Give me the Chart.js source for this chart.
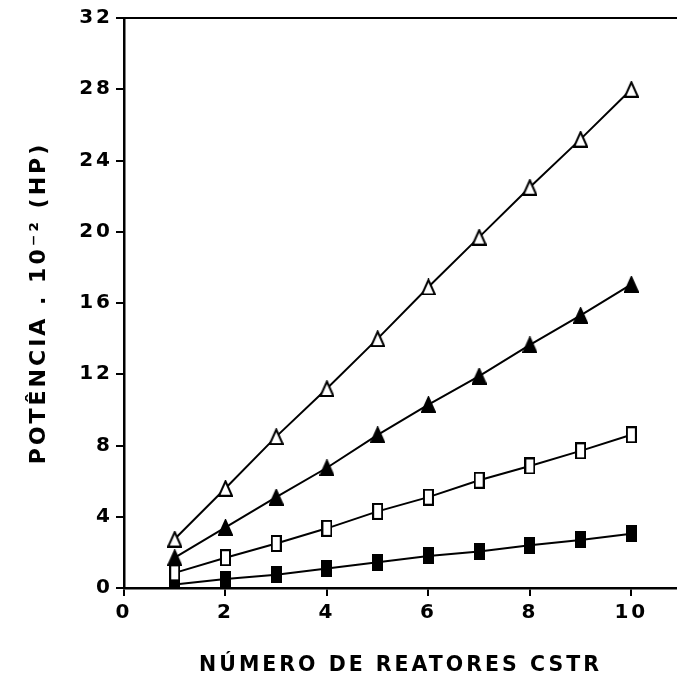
<!DOCTYPE html>
<html>
<head>
<meta charset="utf-8">
<script src="https://cdn.jsdelivr.net/npm/chart.js@4"></script>
<style>
  html, body { margin: 0; padding: 0; background: #fff; overflow: hidden; }
  #wrap { width: 677px; height: 682px; position: relative; }
  canvas { display: block; }
</style>
</head>
<body>
<div id="wrap"><canvas id="chart"></canvas></div>
<script>
// numero de reatores
var reatores = [1, 2, 3, 4, 5, 6, 7, 8, 9, 10];
// potencia . 10^-2 (HP), uma serie por simbolo
var trianguloAberto = [2.75, 5.6, 8.5, 11.2, 14.0, 16.9, 19.7, 22.5, 25.2, 28.0];
var trianguloCheio = [1.7, 3.4, 5.1, 6.75, 8.6, 10.3, 11.9, 13.65, 15.3, 17.05];
var quadradoAberto = [0.85, 1.7, 2.5, 3.35, 4.3, 5.1, 6.05, 6.85, 7.7, 8.6];
var quadradoCheio = [0.2, 0.5, 0.75, 1.1, 1.45, 1.8, 2.05, 2.4, 2.7, 3.05];
var yTicks = [0, 4, 8, 12, 16, 20, 24, 28, 32];
var xTicks = [0, 2, 4, 6, 8, 10];

// marcadores desenhados a mao
function marcador(tipo, cheio) {
    var c = document.createElement('canvas');
    var w = tipo === 'tri' ? 15 : 11;
    var h = 17;
    c.width = w; c.height = h;
    var g = c.getContext('2d');
    g.lineWidth = 2;
    g.strokeStyle = '#000';
    g.fillStyle = cheio ? '#000' : '#fff';
    g.beginPath();
    if (tipo === 'tri') {
        g.moveTo(w / 2, 1.5);
        g.lineTo(w - 1, h - 1);
        g.lineTo(1, h - 1);
        g.closePath();
    } else {
        g.rect(1, 1, w - 2, h - 2);
    }
    g.fill();
    g.stroke();
    return c;
}

function serie(nome, dados, estilo) {
    return {
        label: nome,
        data: reatores.map(function(x, i) { return { x: x, y: dados[i] }; }),
        borderColor: '#000',
        borderWidth: 2,
        pointStyle: estilo,
        pointRadius: 8,
        pointHoverRadius: 8,
        showLine: true,
        fill: false,
        tension: 0
    };
}

// linha do topo do quadro
var bordaTopo = {
    id: 'bordaTopo',
    beforeDraw: function(chart) {
        chart.ctx.letterSpacing = '3px';
    },
    afterDraw: function(chart) {
        var a = chart.chartArea, ctx = chart.ctx;
        ctx.save();
        ctx.strokeStyle = '#000';
        ctx.lineWidth = 2;
        ctx.beginPath();
        ctx.moveTo(a.left - 8, a.top);
        ctx.lineTo(a.right, a.top);
        ctx.stroke();
        ctx.restore();
    }
};

var ctx = document.getElementById('chart').getContext('2d');
var chart = new Chart(ctx, {
    type: 'scatter',
    data: {
        datasets: [
            serie('A', trianguloAberto, marcador('tri', false)),
            serie('B', trianguloCheio, marcador('tri', true)),
            serie('C', quadradoAberto, marcador('sq', false)),
            serie('D', quadradoCheio, marcador('sq', true))
        ]
    },
    options: {
        responsive: true,
        maintainAspectRatio: false,
        animation: false,
        layout: { autoPadding: false, padding: { top: 18, right: 0, left: 0, bottom: 0 } },
        plugins: { legend: { display: false }, tooltip: { enabled: false } },
        scales: {
            x: {
                type: 'linear',
                min: 0,
                max: 10.9,
                afterFit: function(s) { s.height = 94; s.paddingRight = 0; s.paddingLeft = 0; },
                afterBuildTicks: function(s) { s.ticks = xTicks.map(function(v) { return { value: v }; }); },
                ticks: { color: '#000', font: { family: 'DejaVu Sans', size: 20, weight: 'bold' }, padding: 5, maxRotation: 0 },
                grid: { drawOnChartArea: false, drawTicks: true, tickLength: 8, color: '#000', lineWidth: 2 },
                border: { color: '#000', width: 2.5 },
                title: {
                    display: true,
                    text: 'NÚMERO DE REATORES CSTR',
                    color: '#000',
                    font: { family: 'DejaVu Sans', size: 20.5, weight: 'bold' },
                    padding: { top: 8, bottom: 4 }
                }
            },
            y: {
                type: 'linear',
                min: 0,
                max: 32,
                afterFit: function(s) { s.width = 124; s.paddingTop = 0; s.paddingBottom = 0; },
                afterBuildTicks: function(s) { s.ticks = yTicks.map(function(v) { return { value: v }; }); },
                ticks: { color: '#000', font: { family: 'DejaVu Sans', size: 20, weight: 'bold' }, padding: 3 },
                grid: { drawOnChartArea: false, drawTicks: true, tickLength: 8, color: '#000', lineWidth: 2 },
                border: { color: '#000', width: 2.5 },
                title: {
                    display: true,
                    text: 'POTÊNCIA . 10⁻² (HP)',
                    color: '#000',
                    font: { family: 'DejaVu Sans', size: 22, weight: 'bold' },
                    padding: { top: 26, bottom: 0 }
                }
            }
        }
    },
    plugins: [bordaTopo]
});
</script>
</body>
</html>
